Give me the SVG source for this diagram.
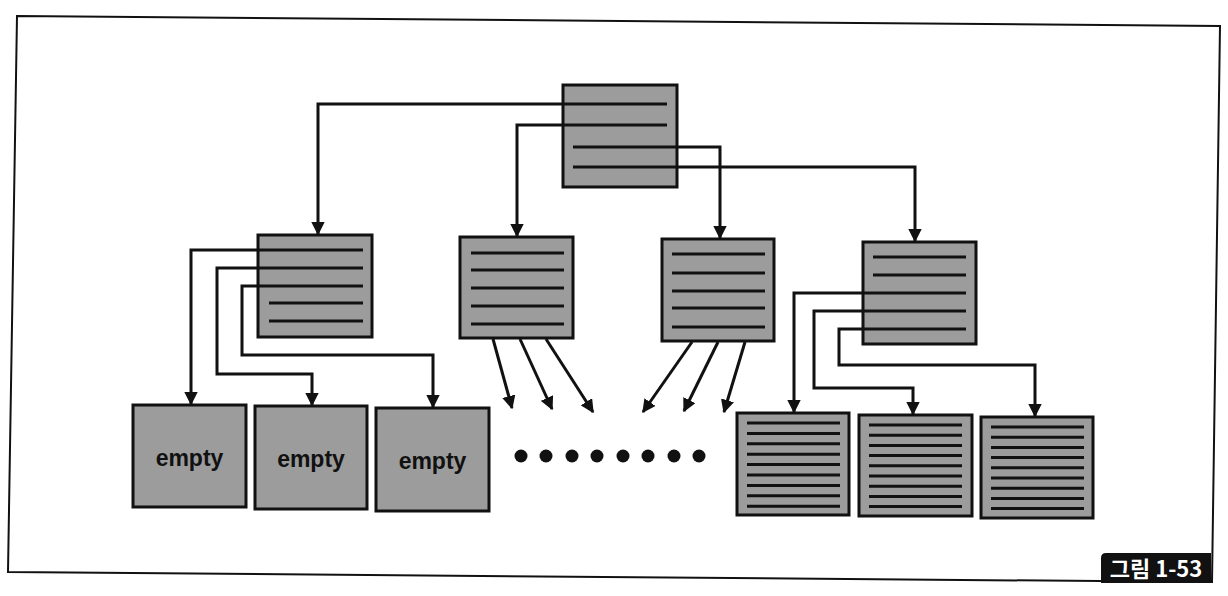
<svg xmlns="http://www.w3.org/2000/svg" width="1228" height="596" viewBox="0 0 1228 596">
<defs>
<style>
.box{fill:#9c9c9c;stroke:#111;stroke-width:3}
.ln{stroke:#111;stroke-width:3;fill:none}
.cn{stroke:#111;stroke-width:3;fill:none;marker-end:url(#ah)}
.et{font-family:"Liberation Sans",Arial,sans-serif;font-weight:bold;font-size:23px;fill:#111;text-anchor:middle}
</style>
<marker id="ah" viewBox="0 0 10 10" refX="9" refY="5" markerWidth="4.5" markerHeight="4.5" orient="auto" markerUnits="strokeWidth">
<path d="M0,0 L10,5 L0,10 z" fill="#111"/>
</marker>
</defs>
<rect width="1228" height="596" fill="#fff"/>
<polygon points="17,16 1220,26 1212,582 8,572" fill="none" stroke="#111" stroke-width="2"/>

<g id="root">
<rect class="box" x="563" y="85" width="114" height="102"/>
<path class="ln" d="M563,104H667M563,125H667M573,147H677M573,167H677"/>
</g>

<g id="nodeA">
<rect class="box" x="258" y="235" width="114" height="102"/>
<path class="ln" d="M258,250H363M258,268H363M258,286H363M269,303H363M269,321H363"/>
</g>
<g id="nodeB">
<rect class="box" x="460" y="237" width="113" height="101"/>
<path class="ln" d="M471,253H564M471,270H564M471,288H564M471,306H564M471,324H564"/>
</g>
<g id="nodeC">
<rect class="box" x="662" y="239" width="112" height="102"/>
<path class="ln" d="M672,254H765M672,273H765M672,291H765M672,308H765M672,327H765"/>
</g>
<g id="nodeD">
<rect class="box" x="863" y="242" width="113" height="102"/>
<path class="ln" d="M873,257H966M873,275H966M863,293H966M863,311H966M863,329H966"/>
</g>

<g id="empty1">
<rect class="box" x="133" y="405" width="113" height="102"/>
<text class="et" x="189.5" y="466">empty</text>
</g>
<g id="empty2">
<rect class="box" x="255" y="406" width="112" height="103"/>
<text class="et" x="311" y="467">empty</text>
</g>
<g id="empty3">
<rect class="box" x="376" y="408" width="113" height="103"/>
<text class="et" x="432.5" y="469">empty</text>
</g>

<g id="full1">
<rect class="box" x="737" y="413" width="112" height="102"/>
<path class="ln" d="M747,423H840M747,433.4H840M747,443.8H840M747,454.2H840M747,464.6H840M747,475H840M747,485.4H840M747,495.8H840M747,506.2H840"/>
</g>
<g id="full2">
<rect class="box" x="859" y="415" width="113" height="101"/>
<path class="ln" d="M869,425H962M869,435.2H962M869,445.4H962M869,455.6H962M869,465.8H962M869,476H962M869,486.2H962M869,496.4H962M869,506.6H962"/>
</g>
<g id="full3">
<rect class="box" x="981" y="417" width="112" height="101"/>
<path class="ln" d="M991,427H1084M991,437.2H1084M991,447.4H1084M991,457.6H1084M991,467.8H1084M991,478H1084M991,488.2H1084M991,498.4H1084M991,508.6H1084"/>
</g>

<g id="dots" fill="#111">
<circle cx="521" cy="456" r="6.5"/>
<circle cx="546" cy="456" r="6.5"/>
<circle cx="572" cy="456" r="6.5"/>
<circle cx="597" cy="456" r="6.5"/>
<circle cx="623" cy="456" r="6.5"/>
<circle cx="648" cy="456" r="6.5"/>
<circle cx="674" cy="456" r="6.5"/>
<circle cx="699" cy="456" r="6.5"/>
</g>

<g id="connectors">
<path class="cn" d="M563,104H318V234"/>
<path class="cn" d="M563,125H517V236"/>
<path class="cn" d="M677,147H720V238"/>
<path class="cn" d="M677,167H915V241"/>
<path class="cn" d="M258,250H191V404"/>
<path class="cn" d="M258,268H217V374H312V405"/>
<path class="cn" d="M258,286H242V355H433V407"/>
<path class="cn" d="M863,293H794V412"/>
<path class="cn" d="M863,311H814V388H913V414"/>
<path class="cn" d="M863,329H839V365H1035V416"/>
<path class="cn" d="M493,339L512,408"/>
<path class="cn" d="M520,339L552,409"/>
<path class="cn" d="M546,339L593,412"/>
<path class="cn" d="M692,342L643,412"/>
<path class="cn" d="M718,342L684,411"/>
<path class="cn" d="M745,342L724,412"/>
</g>

<g id="caption">
<path d="M1106,553H1211V583H1101V558Q1101,553 1106,553Z" fill="#111"/>
<text x="1156" y="577" font-family="'Noto Sans CJK KR','Noto Sans',sans-serif" font-weight="bold" font-size="22" fill="#fff" text-anchor="middle">그림 1-53</text>
</g>
</svg>
